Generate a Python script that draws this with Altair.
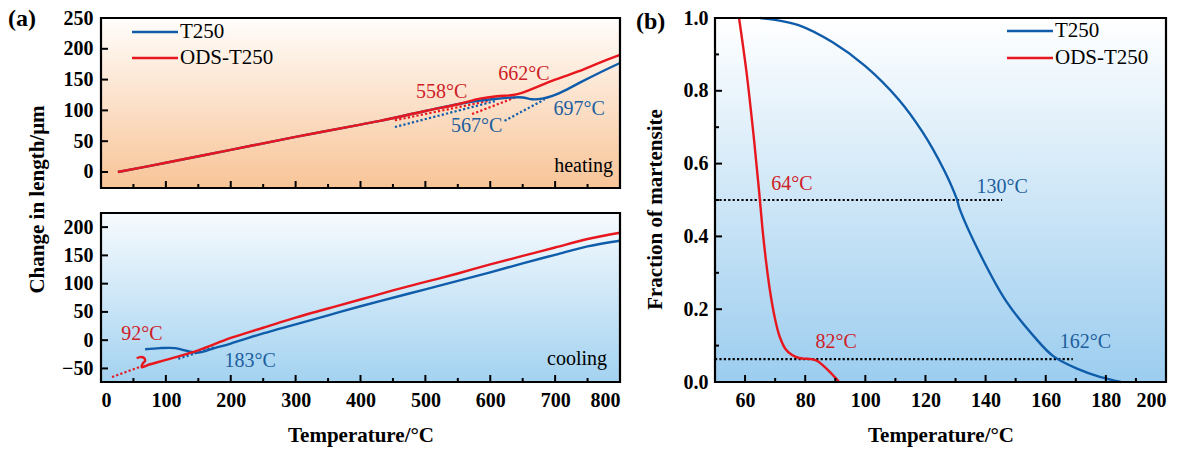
import altair as alt
import pandas as pd

SERIF = "Liberation Serif"
BLUE = "#0f5caa"
RED = "#e8161d"
BLUE_TXT = "#1d5e9e"
RED_TXT = "#cf2027"

# ---------- (a) heating: change in length (µm) vs temperature (°C)
heat_t250_T = [26, 100, 200, 300, 400, 430, 500, 550, 584, 610, 635, 650, 665, 680, 697, 720, 738, 770, 800]
heat_t250_L = [0, 15, 36, 57, 77, 83, 99, 110, 116, 119, 121, 121, 118, 119, 124, 135, 145, 162, 177]
heat_ods_T = [26, 100, 200, 300, 400, 430, 500, 550, 584, 610, 635, 650, 700, 738, 770, 800]
heat_ods_L = [0, 15, 36, 57, 77, 83, 99, 110, 119, 123, 125, 129, 150, 164, 178, 190]

# tangent constructions (start T, start L, end T, end L)
heat_tan_t250 = [(453, 73, 607, 115), (622, 83, 684, 118)]
heat_tan_ods = [(453, 84, 600, 116), (572, 94, 641, 122)]

heat_lbl_text = ["558°C", "662°C", "567°C", "697°C"]
heat_lbl_T = [525, 652, 579, 737]
heat_lbl_L = [130, 159, 75, 102]
heat_lbl_series = ["ODS-T250", "ODS-T250", "T250", "T250"]

# ---------- (a) cooling
cool_t250_T = [800, 750, 700, 650, 600, 550, 500, 450, 400, 350, 300, 250, 200, 175, 150, 140, 129, 114, 91, 68]
cool_t250_L = [176, 166, 151, 136, 120, 105, 90, 75, 60, 44, 28, 12, -6, -14, -22, -21, -18, -14, -14, -16]
cool_ods_T = [800, 750, 700, 650, 600, 550, 500, 450, 400, 350, 300, 250, 200, 150, 100, 72, 66, 63, 64, 68, 66, 60, 55]
cool_ods_L = [190, 179, 164, 149, 134, 118, 103, 88, 72, 56, 40, 22, 4, -18, -35, -44, -47, -48, -42, -36, -31, -30, -32]

cool_tan_t250 = [(119, -33, 176, -12)]
cool_tan_ods = [(17, -65, 63, -46)]

cool_lbl_text = ["92°C", "183°C"]
cool_lbl_T = [63, 230]
cool_lbl_L = [11, -37]
cool_lbl_series = ["ODS-T250", "T250"]

# ---------- (b) fraction of martensite vs temperature
frac_t250_T = [65, 70, 78, 89, 100, 111, 119, 126, 130.4, 131.4, 139, 147, 156, 162.5, 170.6, 178, 185]
frac_t250_f = [1.0, 0.995, 0.98, 0.934, 0.868, 0.777, 0.687, 0.585, 0.503, 0.475, 0.338, 0.22, 0.126, 0.071, 0.036, 0.014, 0.0]
frac_ods_T = [58, 60.5, 62.8, 64.6, 65.8, 67, 68.3, 69.8, 71.5, 73.5, 75.5, 78, 80, 82, 84, 86, 88.5, 91.3]
frac_ods_f = [1.0, 0.85, 0.68, 0.53, 0.42, 0.33, 0.25, 0.18, 0.125, 0.09, 0.075, 0.066, 0.064, 0.063, 0.058, 0.045, 0.025, 0.0]

frac_levels = [0.5, 0.063]
frac_level_end = [145.5, 169]

frac_lbl_text = ["64°C", "130°C", "82°C", "162°C"]
frac_lbl_T = [75.6, 145.5, 90.3, 173.2]
frac_lbl_f = [0.544, 0.536, 0.11, 0.11]
frac_lbl_series = ["ODS-T250", "T250", "ODS-T250", "T250"]

series_names = ["T250", "ODS-T250"]
line_color = {"T250": BLUE, "ODS-T250": RED}
text_color = {"T250": BLUE_TXT, "ODS-T250": RED_TXT}

ONE = pd.DataFrame({"k": [0]})


def curve(T, v):
    return pd.DataFrame({"T": T, "v": v, "i": range(len(T))})


def segs(rows):
    return pd.DataFrame(rows, columns=["T1", "v1", "T2", "v2"])


def pick(vals, tags, s):
    return [v for v, t in zip(vals, tags) if t == s]


def build_panel(W, H, y0, xs, xaxis, ys, yaxis, stops, curves, tangents, labels,
                xt_major, xt_minor, yt_major, yt_minor, extra=None):
    """Layers for one framed panel whose plot box spans rows y0..y0+H."""
    def X(f):
        return alt.X(f, type="quantitative", scale=xs, axis=xaxis)

    def Y(f):
        return alt.Y(f, type="quantitative", scale=ys, axis=yaxis)

    layers = []
    grad = alt.Gradient(gradient="linear",
                        stops=[alt.GradientStop(color=c, offset=o) for o, c in stops],
                        x1=0, x2=0, y1=0, y2=1)
    layers.append(alt.Chart(ONE).mark_rect(fill=grad, strokeWidth=0).encode(
        x=alt.value(0), x2=alt.value(W), y=alt.value(y0), y2=alt.value(y0 + H)))

    for name, rows in tangents:
        layers.append(alt.Chart(segs(rows)).mark_rule(
            color=line_color[name], strokeWidth=2.2, strokeDash=[2.2, 2.2]).encode(
            x=X("T1"), x2="T2", y=Y("v1"), y2="v2"))

    if extra is not None:
        layers.extend(extra(X, Y))

    for name, (T, v) in curves:
        layers.append(alt.Chart(curve(T, v)).mark_line(
            color=line_color[name], strokeWidth=2.4, interpolate="catmull-rom").encode(
            x=X("T"), y=Y("v"), order=alt.Order("i:Q")))

    # inward ticks
    for vals, ln in ((xt_major, 7), (xt_minor, 4)):
        if vals:
            layers.append(alt.Chart(pd.DataFrame({"t": vals})).mark_rule(
                color="black", strokeWidth=2).encode(
                x=X("t"), y=alt.value(y0 + H), y2=alt.value(y0 + H - ln)))
    for vals, ln in ((yt_major, 7), (yt_minor, 4)):
        if vals:
            layers.append(alt.Chart(pd.DataFrame({"t": vals})).mark_rule(
                color="black", strokeWidth=2).encode(
                y=Y("t"), x=alt.value(0), x2=alt.value(ln)))

    for name, (txt, T, v) in labels:
        df = pd.DataFrame({"txt": txt, "T": T, "v": v})
        layers.append(alt.Chart(df).mark_text(
            font=SERIF, fontSize=20, color=text_color[name], align="center", baseline="middle").encode(
            x=X("T"), y=Y("v"), text="txt:N"))

    # frame
    layers.append(alt.Chart(ONE).mark_rect(fillOpacity=0, stroke="black", strokeWidth=2.2).encode(
        x=alt.value(0), x2=alt.value(W), y=alt.value(y0), y2=alt.value(y0 + H)))
    return layers


def legend(x0, y0, gap):
    out = []
    for k, name in enumerate(series_names):
        d = pd.DataFrame({"s": [name]})
        out.append(alt.Chart(d).mark_rule(color=line_color[name], strokeWidth=2.4).encode(
            x=alt.value(x0), x2=alt.value(x0 + 46), y=alt.value(y0 + k * gap)))
        out.append(alt.Chart(d).mark_text(font=SERIF, fontSize=21, color="black",
                                          align="left", baseline="middle").encode(
            x=alt.value(x0 + 48), y=alt.value(y0 + k * gap), text="s:N"))
    return out


def corner_text(txt, x, y, size, bold, align="left"):
    return alt.Chart(pd.DataFrame({"t": [txt]})).mark_text(
        font=SERIF, fontSize=size, fontWeight="bold" if bold else "normal", color="black",
        align=align, baseline="middle").encode(x=alt.value(x), y=alt.value(y), text="t:N")


# ---------- geometry
AW, AH1, AGAP, AH2 = 519, 170, 25, 169
AH = AH1 + AGAP + AH2
BW, BH = 451, 364
Y2 = AH1 + AGAP

x_major_a = list(range(0, 801, 100))
x_minor_a = list(range(50, 800, 100))

xa_scale = alt.Scale(domain=[0, 800], nice=False, zero=False)
xa_axis = alt.Axis(values=x_major_a, title="Temperature/°C",
                   titleX=AW / 2, titleY=53, titleBaseline="middle", labelPadding=8)

top_scale = alt.Scale(domain=[-26, 250], range=[AH1, 0], nice=False, zero=False)
top_axis = alt.Axis(values=[0, 50, 100, 150, 200, 250], title="Change in length/μm", orient="left",
                    titleX=-64, titleY=181, titleAngle=270, titleAlign="center",
                    titleBaseline="middle", labelPadding=8)
bot_scale = alt.Scale(domain=[-74, 225], range=[AH, Y2], nice=False, zero=False)
bot_axis = alt.Axis(values=[-50, 0, 50, 100, 150, 200], title=None, orient="left", labelPadding=8)

top_layers = build_panel(
    AW, AH1, 0, xa_scale, xa_axis, top_scale, top_axis,
    [(0, "#fffdfb"), (1, "#f8c497")],
    [("T250", (heat_t250_T, heat_t250_L)), ("ODS-T250", (heat_ods_T, heat_ods_L))],
    [("T250", heat_tan_t250), ("ODS-T250", heat_tan_ods)],
    [(s, (pick(heat_lbl_text, heat_lbl_series, s), pick(heat_lbl_T, heat_lbl_series, s),
          pick(heat_lbl_L, heat_lbl_series, s))) for s in series_names],
    x_major_a, x_minor_a, [0, 50, 100, 150, 200, 250], [],
)
top_group = alt.layer(*top_layers, *legend(31, 14, 26),
                      corner_text("heating", AW - 7, 148, 20, False, "right"),
                      corner_text("(a)", -93, 1, 24, True))

bot_layers = build_panel(
    AW, AH2, Y2, xa_scale, xa_axis, bot_scale, bot_axis,
    [(0, "#f7fbfe"), (1, "#a3d2f0")],
    [("T250", (cool_t250_T, cool_t250_L)), ("ODS-T250", (cool_ods_T, cool_ods_L))],
    [("T250", cool_tan_t250), ("ODS-T250", cool_tan_ods)],
    [(s, (pick(cool_lbl_text, cool_lbl_series, s), pick(cool_lbl_T, cool_lbl_series, s),
          pick(cool_lbl_L, cool_lbl_series, s))) for s in series_names],
    x_major_a, x_minor_a, [-50, 0, 50, 100, 150, 200], [],
)
bot_group = alt.layer(*bot_layers, corner_text("cooling", AW - 13, Y2 + 146, 20, False, "right"))

left = alt.layer(top_group, bot_group).resolve_scale(y="independent").properties(width=AW, height=AH)

# ---------- (b)
xb_scale = alt.Scale(domain=[50, 200], nice=False, zero=False)
xb_axis = alt.Axis(values=list(range(60, 201, 20)), title="Temperature/°C",
                   titleX=BW / 2, titleY=53, titleBaseline="middle", labelPadding=8)
yb_scale = alt.Scale(domain=[0, 1], nice=False, zero=False)
yb_axis = alt.Axis(values=[0, 0.2, 0.4, 0.6, 0.8, 1.0], format=".1f", title="Fraction of martensite",
                   titleX=-60, titleY=191, titleAngle=270, titleAlign="center",
                   titleBaseline="middle", labelPadding=7)


def level_lines(X, Y):
    df = pd.DataFrame({"f": frac_levels, "T1": [50] * len(frac_levels), "T2": frac_level_end})
    return [alt.Chart(df).mark_rule(color="black", strokeWidth=2.2, strokeDash=[2.2, 2.2]).encode(
        x=X("T1"), x2="T2", y=Y("f"))]


b_layers = build_panel(
    BW, BH, 0, xb_scale, xb_axis, yb_scale, yb_axis,
    [(0, "#ffffff"), (1, "#9ccdef")],
    [("T250", (frac_t250_T, frac_t250_f)), ("ODS-T250", (frac_ods_T, frac_ods_f))],
    [],
    [(s, (pick(frac_lbl_text, frac_lbl_series, s), pick(frac_lbl_T, frac_lbl_series, s),
          pick(frac_lbl_f, frac_lbl_series, s))) for s in series_names],
    list(range(60, 201, 20)), list(range(70, 200, 20)),
    [0.2, 0.4, 0.6, 0.8], [0.1, 0.3, 0.5, 0.7, 0.9],
    extra=level_lines,
)
right = alt.layer(*b_layers, *legend(292, 13, 27),
                  corner_text("(b)", -79, 4, 24, True)).properties(width=BW, height=BH)

chart = alt.hconcat(left, right, spacing=95, bounds="flush").properties(
    padding={"left": 8, "top": 7, "right": 4, "bottom": 2}, background="white"
).configure_view(stroke=None).configure_axis(
    domain=False, ticks=False, grid=False,
    labelFont=SERIF, labelFontWeight="bold", labelFontSize=20, labelColor="black",
    titleFont=SERIF, titleFontWeight="bold", titleFontSize=21, titleColor="black",
)

chart.save("out.html", embed_options={"renderer": "svg", "actions": False})
